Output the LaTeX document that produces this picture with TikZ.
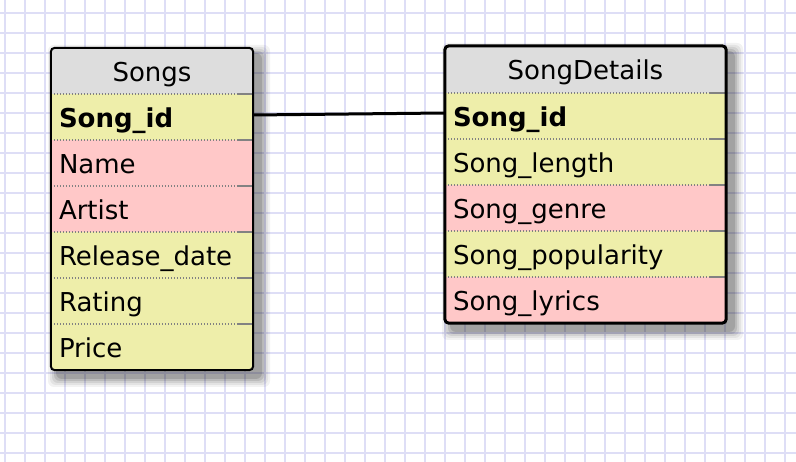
\documentclass[tikz,border=0pt]{standalone}
\usepackage{fontspec}
\setmainfont{DejaVu Sans}
\definecolor{gridc}{RGB}{222,222,246}
\definecolor{hdr}{RGB}{221,221,221}
\definecolor{yel}{RGB}{238,238,170}
\definecolor{pnk}{RGB}{255,200,200}
\definecolor{sep}{RGB}{130,130,130}
\tikzset{
  rowbox/.style={rectangle, inner xsep=8pt, inner ysep=0pt, minimum height=46pt,
    text width={#1pt-16pt}, align=left, text height=21pt, text depth=0pt,
    font=\fontsize{26}{29}\selectfont},
  hdrbox/.style={rectangle, inner sep=0pt, minimum width=#1pt, minimum height=46pt,
    text height=21pt, text depth=0pt, fill=hdr, font=\fontsize{26}{29}\selectfont},
  seprule/.style={sep, line width=1.5pt, dash pattern=on 1.5pt off 1.5pt},
  sepend/.style={sep, line width=1.5pt},
  link/.style={line width=3pt, black},
}
\begin{document}
\begin{tikzpicture}[x=1pt,y=-1pt]
\useasboundingbox (0,0) rectangle (796,462);
\fill[white] (0,0) rectangle (796,462);
% grid
\foreach \gx in {5,25,...,795} \draw[gridc, line width=2pt] (\gx,0) -- (\gx,462);
\foreach \gy in {13,33,...,462} \draw[gridc, line width=2pt] (0,\gy) -- (796,\gy);

% shadows
\foreach \k/\op in {10/0.05,8/0.06,6/0.08,4/0.10,2/0.13}{
  \fill[black, opacity=\op, rounded corners=6] (51+7-\k,48+7-\k) rectangle (253+7+\k,370+7+\k);
  \fill[black, opacity=\op, rounded corners=6] (445+7-\k,46+7-\k) rectangle (726+7+\k,323+7+\k);
}

% ---------- Songs ----------
\begin{scope}
\clip[rounded corners=4] (51,48) rectangle (253,370);
\node[hdrbox=202] (sh) at (152,71) {Songs};
\node[rowbox=202, fill=yel] (s1) at (152,117) {\textbf{Song\_id}};
\node[rowbox=202, fill=pnk] (s2) at (152,163) {Name};
\node[rowbox=202, fill=pnk] (s3) at (152,209) {Artist};
\node[rowbox=202, fill=yel] (s4) at (152,255) {Release\_date};
\node[rowbox=202, fill=yel] (s5) at (152,301) {Rating};
\node[rowbox=202, fill=yel] (s6) at (152,347) {Price};
\end{scope}
\foreach \a in {sh,s1,s2,s3,s4,s5}{
  \draw[seprule] (\a.south west) -- ([xshift=-16pt]\a.south east);
  \draw[sepend] ([xshift=-16pt]\a.south east) -- (\a.south east);
}
\draw[line width=2pt, rounded corners=4] (sh.north west) rectangle (s6.south east);

% ---------- SongDetails ----------
\begin{scope}
\clip[rounded corners=4] (445,46) rectangle (726,323);
\node[hdrbox=281, minimum height=47pt] (dh) at (585.5,69.5) {SongDetails};
\node[rowbox=281, fill=yel] (d1) at (585.5,116) {\textbf{Song\_id}};
\node[rowbox=281, fill=yel] (d2) at (585.5,162) {Song\_length};
\node[rowbox=281, fill=pnk] (d3) at (585.5,208) {Song\_genre};
\node[rowbox=281, fill=yel] (d4) at (585.5,254) {Song\_popularity};
\node[rowbox=281, fill=pnk] (d5) at (585.5,300) {Song\_lyrics};
\end{scope}
\foreach \a in {dh,d1,d2,d3,d4}{
  \draw[seprule] (\a.south west) -- ([xshift=-16pt]\a.south east);
  \draw[sepend] ([xshift=-16pt]\a.south east) -- (\a.south east);
}
\draw[line width=3pt, rounded corners=4] (dh.north west) rectangle (d5.south east);

% connector
\draw[link] ([yshift=2pt]s1.east) -- ([yshift=3pt]d1.west);
\end{tikzpicture}
\end{document}
